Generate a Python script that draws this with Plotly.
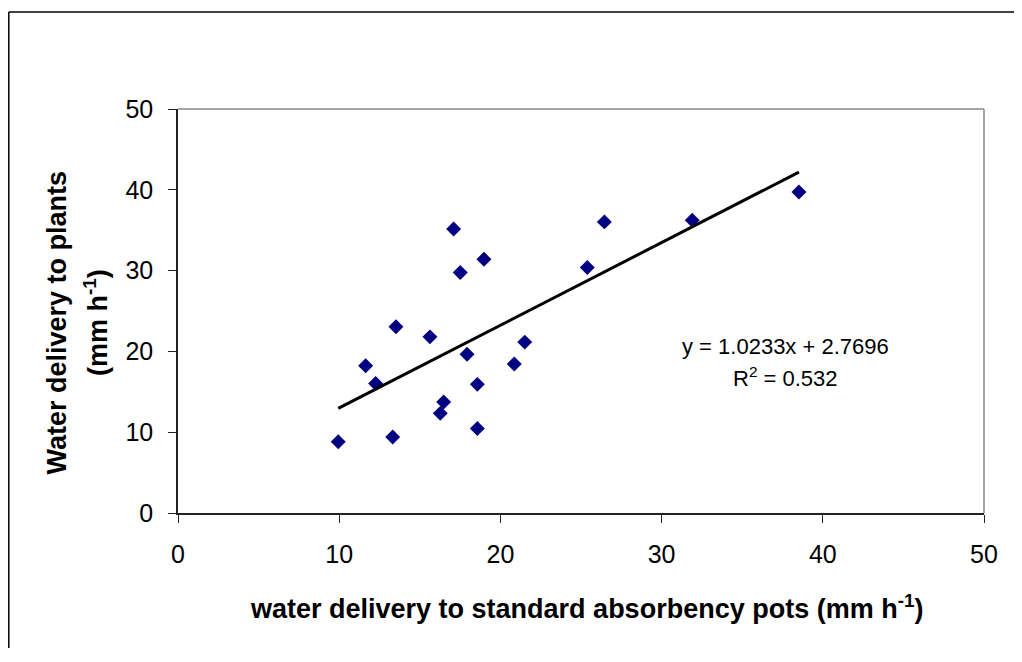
import plotly.graph_objects as go

# Data
pots_delivery = [9.94, 11.64, 12.26, 13.32, 13.52, 15.63, 16.27, 16.48, 17.10, 17.51,
                 17.93, 18.57, 18.57, 18.98, 20.86, 21.51, 25.39, 26.45, 31.90, 38.52]
plant_delivery = [8.82, 18.22, 16.04, 9.40, 23.04, 21.80, 12.33, 13.73, 35.16, 29.77,
                  19.66, 15.92, 10.47, 31.41, 18.43, 21.15, 30.39, 36.03, 36.24, 39.74]
slope = 1.0233
intercept = 2.7696
r_squared = 0.532
tick_values = [0, 10, 20, 30, 40, 50]

FONT = "Liberation Sans, Arial, sans-serif"

x_fit = [min(pots_delivery), max(pots_delivery)]
y_fit = [slope * v + intercept for v in x_fit]

# page body has an 8px margin; plot area targeted at screen x 178..984, y 109..513
L, T, PW, PH = 170, 101, 806, 404
W, H = 1006, 640

fig = go.Figure()
fig.add_trace(go.Scatter(
    x=pots_delivery, y=plant_delivery, mode="markers",
    marker=dict(symbol="diamond", size=11.5, color="#000080", line=dict(width=0)),
    showlegend=False, hoverinfo="x+y"))
fig.add_trace(go.Scatter(
    x=x_fit, y=y_fit, mode="lines",
    line=dict(color="black", width=3), showlegend=False, hoverinfo="skip"))


def px(sx):
    return (sx - 8 - L) / PW


def py(sy):
    return (T + PH - (sy - 8)) / PH


fig.update_layout(
    width=W, height=H,
    margin=dict(l=L, r=W - L - PW, t=T, b=H - T - PH),
    paper_bgcolor="white", plot_bgcolor="white",
    font=dict(family=FONT, color="black"),
    xaxis=dict(range=[0, 50], tickvals=tick_values, showgrid=False, zeroline=False,
               showline=True, linecolor="#222222", linewidth=1.5,
               ticks="outside", ticklen=8, tickwidth=1, tickcolor="#222222",
               ticklabelstandoff=10, tickfont=dict(size=25, family=FONT)),
    yaxis=dict(range=[0, 50], tickvals=tick_values, showgrid=False, zeroline=False,
               showline=True, linecolor="#222222", linewidth=1.5,
               ticks="outside", ticklen=8, tickwidth=1, tickcolor="#222222",
               ticklabelstandoff=10, tickfont=dict(size=25, family=FONT)),
    shapes=[
        # plot-area frame (top and right)
        dict(type="line", xref="paper", yref="paper", x0=0, x1=1, y0=1, y1=1,
             line=dict(color="#888888", width=1.5)),
        dict(type="line", xref="paper", yref="paper", x0=1, x1=1, y0=0, y1=1,
             line=dict(color="#888888", width=1.5)),
        # outer chart border (left and top edges visible)
        dict(type="line", xref="paper", yref="paper", x0=px(8.8), x1=px(8.8), y0=-0.6, y1=py(12),
             line=dict(color="black", width=1.5), layer="below"),
        dict(type="line", xref="paper", yref="paper", x0=px(8.8), x1=1.3, y0=py(12), y1=py(12),
             line=dict(color="black", width=1.5), layer="below"),
    ],
    annotations=[
        dict(text="y = %.4fx + %.4f" % (slope, intercept), x=37.66, y=20.65,
             xref="x", yref="y", showarrow=False, font=dict(size=22, family=FONT)),
        dict(text="R<sup>2</sup> = %.3f" % r_squared, x=37.66, y=16.8,
             xref="x", yref="y", showarrow=False, font=dict(size=22, family=FONT)),
        dict(text="<b>water delivery to standard absorbency pots (mm h<sup>-1</sup>)</b>",
             x=px(586), y=py(607), xref="paper", yref="paper",
             showarrow=False, xanchor="center", yanchor="middle",
             font=dict(size=27, family=FONT)),
        dict(text="<b>Water delivery to plants</b>",
             x=px(56.5), y=py(323), xref="paper", yref="paper",
             showarrow=False, textangle=-90, xanchor="center", yanchor="middle",
             font=dict(size=27, family=FONT)),
        dict(text="<b>(mm h<sup>-1</sup>)</b>",
             x=px(96), y=py(323), xref="paper", yref="paper",
             showarrow=False, textangle=-90, xanchor="center", yanchor="middle",
             font=dict(size=27, family=FONT)),
    ],
)

fig.write_html("out.html")
